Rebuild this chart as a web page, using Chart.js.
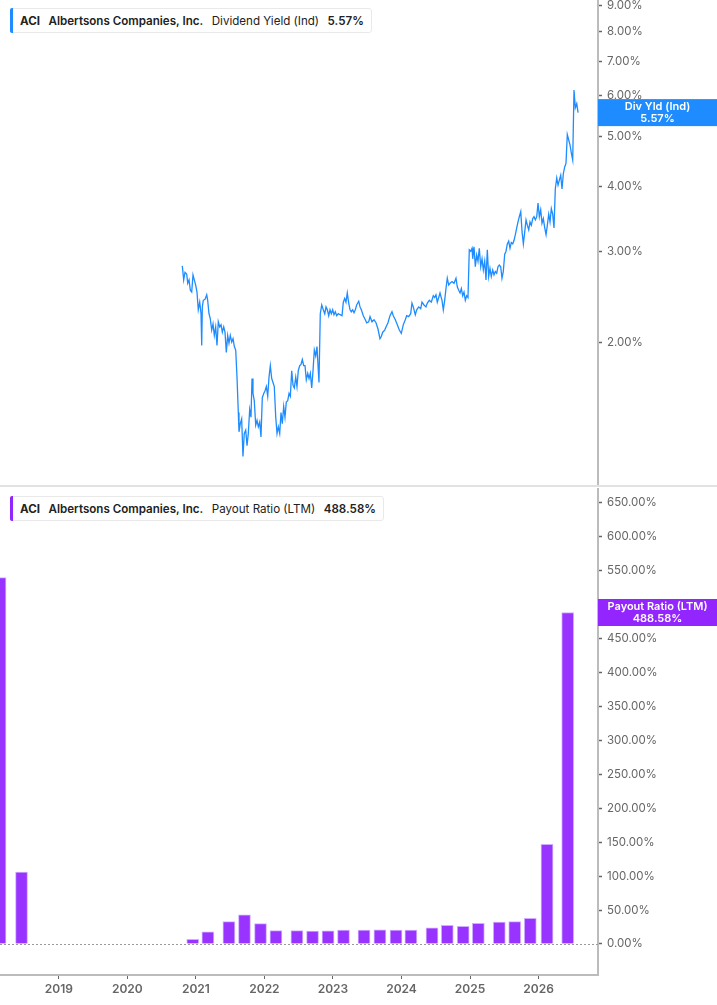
<!DOCTYPE html>
<html>
<head>
<meta charset="utf-8">
<script src="https://cdn.jsdelivr.net/npm/chart.js@4.4.1/dist/chart.umd.min.js"></script>
<style>
  html, body { margin: 0; padding: 0; background: #fff; width: 717px; height: 1005px; overflow: hidden; }
  .pane { position: absolute; left: 0; width: 717px; }
  #sep { position: absolute; left: 0; top: 485px; width: 717px; height: 2px; background: #e2e2e2; }
  .legend {
    position: absolute; left: 10px; height: 25px; display: flex; align-items: center;
    background: #fff; border: 1px solid #e9e9e9; border-radius: 3px;
    font: 11.6px Inter, sans-serif; color: #222; padding-right: 7px; box-sizing: border-box;
  }
  .legend .acc { width: 3px; align-self: stretch; border-radius: 2px 0 0 2px; margin: -1px 7px -1px -1px; }
  .legend span { margin-right: 8.5px; white-space: nowrap; }
  .legend span:last-child { margin-right: 0; }
  .b7 { font-weight: 700; }
  .b6 { font-weight: 600; }
</style>
</head>
<body>
<div class="pane" style="top:0;height:486px"><canvas id="yieldChart"></canvas></div>
<div id="sep"></div>
<div class="pane" style="top:488px;height:517px"><canvas id="payoutChart"></canvas></div>

<div class="legend" style="top:8px">
  <div class="acc" style="background:#1e8cff"></div>
  <span class="b7">ACI</span><span class="b6">Albertsons Companies, Inc.</span><span>Dividend Yield (Ind)</span><span class="b6">5.57%</span>
</div>
<div class="legend" style="top:496px">
  <div class="acc" style="background:#9326ff"></div>
  <span class="b7">ACI</span><span class="b6">Albertsons Companies, Inc.</span><span>Payout Ratio (LTM)</span><span class="b6">488.58%</span>
</div>

<script>
// dividend yield (Ind), % -- dates as decimal years
const yieldDates = [
  2020.802, 2020.822, 2020.841, 2020.866, 2020.881, 2020.900, 2020.919, 2020.939, 2020.958, 2020.977,
  2020.997, 2021.016, 2021.035, 2021.056, 2021.075, 2021.085, 2021.094, 2021.108, 2021.133, 2021.158,
  2021.172, 2021.191, 2021.210, 2021.231, 2021.250, 2021.269, 2021.289, 2021.308, 2021.327, 2021.348,
  2021.367, 2021.386, 2021.406, 2021.425, 2021.444, 2021.464, 2021.483, 2021.502, 2021.523, 2021.542,
  2021.561, 2021.581, 2021.600, 2021.619, 2021.629, 2021.648, 2021.668, 2021.687, 2021.706, 2021.727,
  2021.746, 2021.765, 2021.785, 2021.804, 2021.819, 2021.833, 2021.852, 2021.873, 2021.892, 2021.911,
  2021.931, 2021.950, 2021.969, 2021.990, 2022.009, 2022.028, 2022.048, 2022.067, 2022.086, 2022.106,
  2022.125, 2022.144, 2022.165, 2022.184, 2022.203, 2022.223, 2022.242, 2022.261, 2022.281, 2022.300,
  2022.319, 2022.340, 2022.359, 2022.378, 2022.398, 2022.417, 2022.436, 2022.457, 2022.475, 2022.494,
  2022.515, 2022.534, 2022.553, 2022.573, 2022.592, 2022.611, 2022.632, 2022.651, 2022.670, 2022.690,
  2022.709, 2022.728, 2022.748, 2022.767, 2022.796, 2022.815, 2022.836, 2022.859, 2022.880, 2022.899,
  2022.918, 2022.938, 2022.957, 2022.976, 2022.996, 2023.015, 2023.034, 2023.055, 2023.078, 2023.103,
  2023.132, 2023.151, 2023.171, 2023.190, 2023.209, 2023.230, 2023.249, 2023.268, 2023.288, 2023.307,
  2023.326, 2023.346, 2023.376, 2023.395, 2023.414, 2023.443, 2023.472, 2023.492, 2023.522, 2023.541,
  2023.570, 2023.599, 2023.628, 2023.657, 2023.686, 2023.705, 2023.726, 2023.755, 2023.774, 2023.803,
  2023.832, 2023.861, 2023.880, 2023.910, 2023.939, 2023.968, 2023.997, 2024.026, 2024.055, 2024.076,
  2024.105, 2024.134, 2024.153, 2024.172, 2024.201, 2024.222, 2024.251, 2024.280, 2024.299, 2024.328,
  2024.357, 2024.377, 2024.406, 2024.435, 2024.464, 2024.484, 2024.503, 2024.522, 2024.543, 2024.562,
  2024.591, 2024.610, 2024.630, 2024.649, 2024.668, 2024.689, 2024.708, 2024.737, 2024.766, 2024.795,
  2024.814, 2024.835, 2024.854, 2024.873, 2024.893, 2024.912, 2024.931, 2024.951, 2024.970, 2024.989,
  2025.010, 2025.029, 2025.039, 2025.058, 2025.077, 2025.097, 2025.116, 2025.135, 2025.156, 2025.175,
  2025.194, 2025.214, 2025.233, 2025.252, 2025.272, 2025.291, 2025.310, 2025.331, 2025.350, 2025.369,
  2025.389, 2025.408, 2025.427, 2025.447, 2025.466, 2025.485, 2025.506, 2025.525, 2025.544, 2025.564,
  2025.583, 2025.602, 2025.623, 2025.642, 2025.661, 2025.681, 2025.700, 2025.719, 2025.740, 2025.759,
  2025.778, 2025.798, 2025.817, 2025.836, 2025.856, 2025.875, 2025.894, 2025.915, 2025.934, 2025.953,
  2025.973, 2025.992, 2026.011, 2026.031, 2026.050, 2026.069, 2026.090, 2026.109, 2026.128, 2026.148,
  2026.167, 2026.186, 2026.206, 2026.225, 2026.244, 2026.265, 2026.284, 2026.303, 2026.323, 2026.342,
  2026.361, 2026.381, 2026.400, 2026.419, 2026.440, 2026.459, 2026.478, 2026.498, 2026.517, 2026.536,
  2026.557, 2026.576
];
const yieldValues = [
  2.81, 2.64, 2.73, 2.71, 2.60, 2.64, 2.52, 2.50, 2.70, 2.64,
  2.58, 2.50, 2.31, 2.39, 2.27, 1.97, 2.34, 2.41, 2.42, 2.47,
  2.41, 2.27, 2.22, 2.11, 2.17, 2.06, 2.14, 1.97, 2.19, 2.14,
  2.16, 2.09, 2.14, 2.09, 1.91, 2.06, 1.99, 2.06, 2.00, 2.03,
  1.96, 1.93, 1.71, 1.46, 1.34, 1.39, 1.42, 1.20, 1.33, 1.35,
  1.26, 1.33, 1.48, 1.43, 1.70, 1.59, 1.54, 1.38, 1.41, 1.37,
  1.40, 1.31, 1.56, 1.59, 1.61, 1.64, 1.57, 1.71, 1.80, 1.70,
  1.67, 1.64, 1.43, 1.33, 1.37, 1.33, 1.46, 1.39, 1.50, 1.43,
  1.53, 1.54, 1.59, 1.57, 1.76, 1.65, 1.63, 1.71, 1.64, 1.76,
  1.80, 1.81, 1.85, 1.80, 1.80, 1.69, 1.74, 1.70, 1.74, 1.63,
  1.76, 1.93, 1.88, 1.96, 1.67, 2.27, 2.36, 2.31, 2.27, 2.34,
  2.31, 2.25, 2.31, 2.27, 2.31, 2.26, 2.29, 2.25, 2.27, 2.26,
  2.25, 2.39, 2.43, 2.39, 2.49, 2.38, 2.31, 2.29, 2.31, 2.28,
  2.31, 2.36, 2.40, 2.34, 2.31, 2.25, 2.21, 2.18, 2.19, 2.24,
  2.19, 2.21, 2.18, 2.12, 2.03, 2.05, 2.09, 2.11, 2.14, 2.18,
  2.25, 2.29, 2.25, 2.21, 2.16, 2.11, 2.08, 2.16, 2.21, 2.25,
  2.24, 2.27, 2.38, 2.34, 2.26, 2.31, 2.34, 2.32, 2.39, 2.36,
  2.34, 2.38, 2.41, 2.39, 2.46, 2.44, 2.47, 2.39, 2.44, 2.49,
  2.41, 2.31, 2.41, 2.54, 2.66, 2.58, 2.60, 2.62, 2.60, 2.66,
  2.56, 2.52, 2.49, 2.54, 2.46, 2.50, 2.41, 2.46, 2.44, 3.02,
  3.00, 3.04, 2.90, 3.06, 2.80, 2.95, 2.87, 3.04, 2.80, 2.90,
  2.76, 2.87, 2.64, 3.02, 2.68, 2.78, 2.68, 2.76, 2.70, 2.74,
  2.72, 2.80, 2.82, 2.80, 2.66, 2.74, 2.96, 3.00, 3.10, 3.14,
  3.04, 3.12, 3.10, 3.15, 3.23, 3.33, 3.42, 3.50, 3.58, 3.27,
  3.10, 3.27, 3.45, 3.37, 3.30, 3.42, 3.37, 3.47, 3.50, 3.45,
  3.50, 3.72, 3.50, 3.61, 3.40, 3.47, 3.33, 3.23, 3.37, 3.54,
  3.42, 3.63, 3.54, 3.33, 3.96, 4.16, 4.03, 4.12, 4.21, 3.96,
  4.24, 4.37, 4.44, 5.05, 4.93, 4.82, 4.65, 4.51, 6.16, 5.69,
  5.80, 5.57
];

// payout ratio (LTM), % -- fiscal quarter ends
const payoutDates = [2018.142, 2018.456, 2020.954, 2021.175, 2021.482, 2021.709, 2021.943, 2022.168,
  2022.474, 2022.702, 2022.928, 2023.154, 2023.453, 2023.685, 2023.920, 2024.137, 2024.445, 2024.668,
  2024.900, 2025.121, 2025.427, 2025.652, 2025.879, 2026.123, 2026.425];
const payoutValues = [540, 106, 7, 18, 33, 43, 30, 19.6, 19.6, 19, 19.3, 20.6, 20.6, 21, 20.6, 20.6,
  24, 27.5, 26, 30.4, 32.4, 33, 37.8, 147, 488.58];

const yearTicks = [2019, 2020, 2021, 2022, 2023, 2024, 2025, 2026];
const yieldTicks = [2, 3, 4, 5, 6, 7, 8, 9];
const payoutTicks = [0, 50, 100, 150, 200, 250, 300, 350, 400, 450, 500, 550, 600, 650];

const xMin = 2018.142, xMax = 2026.867;
const blue = '#1e8cff', purple = '#9326ff';

Chart.defaults.font.family = 'Inter, sans-serif';
Chart.defaults.animation = false;

// fix the axis widths so both panels line up
function rightAxisFit(scale) {
  scale.width = 119;
  scale.paddingTop = 0;
  scale.paddingBottom = 0;
}

const lastValueTag = {
  id: 'lastValueTag',
  afterDraw(chart, args, opts) {
    const ctx = chart.ctx;
    const y = chart.scales.y.getPixelForValue(opts.value);
    const x0 = chart.chartArea.right, w = chart.width - x0, h = 27;
    ctx.save();
    ctx.fillStyle = opts.color;
    ctx.fillRect(x0, y - h / 2, w, h);
    ctx.fillStyle = '#fff';
    ctx.font = '600 11px Inter, sans-serif';
    ctx.textAlign = 'center';
    ctx.textBaseline = 'middle';
    ctx.fillText(opts.title, x0 + w / 2, y - 6);
    ctx.fillText(opts.label, x0 + w / 2, y + 6.5);
    ctx.restore();
  }
};

const zeroLine = {
  id: 'zeroLine',
  beforeDatasetsDraw(chart) {
    const ctx = chart.ctx, area = chart.chartArea;
    const y = Math.round(chart.scales.y.getPixelForValue(0)) + 0.5;
    ctx.save();
    ctx.setLineDash([2, 2]);
    ctx.strokeStyle = '#9a9a9a';
    ctx.lineWidth = 1;
    ctx.beginPath();
    ctx.moveTo(area.left, y);
    ctx.lineTo(area.right, y);
    ctx.stroke();
    ctx.restore();
  }
};

const yTickStyle = { color: '#666', font: { size: 11.5 }, padding: 5, autoSkip: false };
const yGrid = { drawOnChartArea: false, tickLength: 4, tickColor: '#666', tickWidth: 1.5 };
const yBorder = { display: true, color: '#bcbcbc', width: 2 };

new Chart(document.getElementById('yieldChart'), {
  type: 'line',
  data: {
    datasets: [{
      data: yieldDates.map((d, i) => ({ x: d, y: yieldValues[i] })),
      borderColor: blue,
      borderWidth: 1.3,
      pointRadius: 0,
      tension: 0
    }]
  },
  options: {
    responsive: true,
    maintainAspectRatio: false,
    layout: { padding: 0 },
    plugins: {
      legend: { display: false },
      tooltip: { enabled: false },
      lastValueTag: { value: 5.57, color: blue, title: 'Div Yld (Ind)', label: '5.57%' }
    },
    scales: {
      x: { type: 'linear', display: false, min: xMin, max: xMax },
      y: {
        type: 'logarithmic', position: 'right', min: 1.052, max: 9.208,
        afterBuildTicks: s => { s.ticks = yieldTicks.map(v => ({ value: v })); },
        afterFit: rightAxisFit,
        ticks: { ...yTickStyle, callback: v => v.toFixed(2) + '%' },
        grid: yGrid,
        border: yBorder
      }
    }
  },
  plugins: [lastValueTag]
});

new Chart(document.getElementById('payoutChart'), {
  type: 'bar',
  data: {
    datasets: [{
      data: payoutDates.map((d, i) => ({ x: d, y: payoutValues[i] })),
      backgroundColor: '#9933ff',
      borderColor: 'rgba(206,170,255,0.95)',
      borderWidth: { top: 1, left: 1, right: 1, bottom: 0 },
      borderSkipped: false,
      barThickness: 12
    }]
  },
  options: {
    responsive: true,
    maintainAspectRatio: false,
    layout: { padding: 0 },
    plugins: {
      legend: { display: false },
      tooltip: { enabled: false },
      lastValueTag: { value: 488.58, color: purple, title: 'Payout Ratio (LTM)', label: '488.58%' }
    },
    scales: {
      x: {
        type: 'linear', min: xMin, max: xMax, offset: false,
        afterBuildTicks: s => { s.ticks = yearTicks.map(v => ({ value: v })); },
        afterFit: s => { s.height = 30; s.paddingLeft = 0; s.paddingRight = 0; },
        ticks: { color: '#666', font: { size: 12, weight: '600' }, padding: 3, autoSkip: false,
          maxRotation: 0, callback: v => String(v) },
        grid: { drawOnChartArea: false, offset: false, tickLength: 4, tickColor: '#666', tickWidth: 1 },
        border: yBorder
      },
      y: {
        type: 'linear', position: 'right', min: -45.69, max: 672.07,
        afterBuildTicks: s => { s.ticks = payoutTicks.map(v => ({ value: v })); },
        afterFit: rightAxisFit,
        ticks: { ...yTickStyle, callback: v => v.toFixed(2) + '%' },
        grid: yGrid,
        border: yBorder
      }
    }
  },
  plugins: [zeroLine, lastValueTag]
});
</script>
</body>
</html>
